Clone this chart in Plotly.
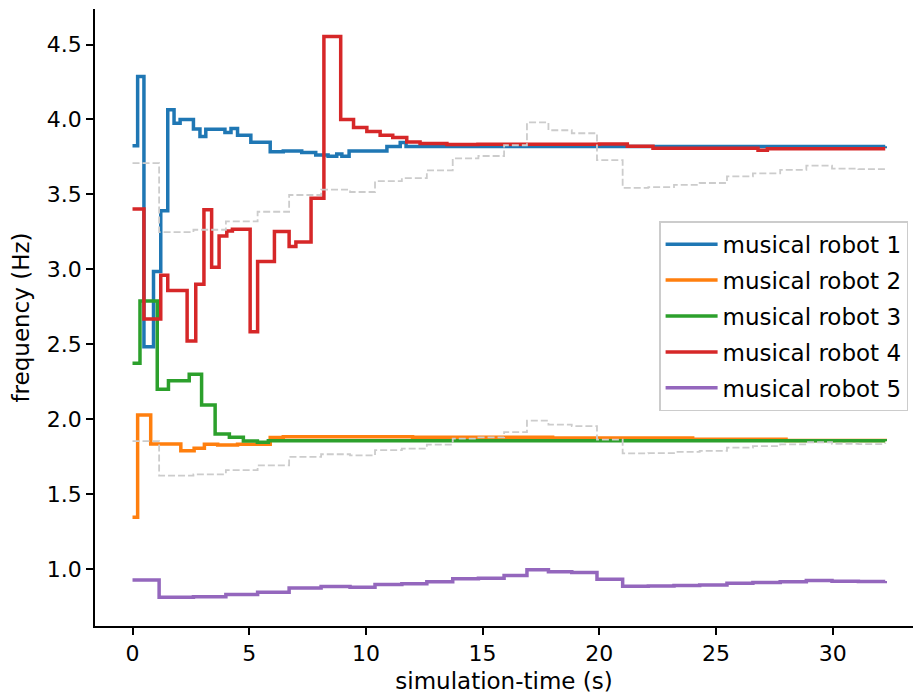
import plotly.graph_objects as go

# ---- data ----
t1 = [0, 0.22, 0.49, 0.9, 1.21, 1.51, 1.78, 2.04, 2.61, 2.89, 3.14, 3.96, 4.22, 4.5, 5.07,
      5.9, 6.46, 7.25, 7.85, 8.38, 8.75, 8.97, 9.28, 10.9, 11.47, 11.72, 32.25]
f1 = [3.824, 4.287, 2.484, 2.985, 3.39, 4.064, 3.975, 4.0, 3.937, 3.886, 3.935, 3.913, 3.94,
      3.895, 3.848, 3.784, 3.79, 3.78, 3.762, 3.755, 3.77, 3.755, 3.79, 3.82, 3.846, 3.82, 3.822]

t2 = [0, 0.22, 0.78, 2.07, 2.64, 3.08, 3.65, 4.5, 5.9, 6.46, 12, 18, 24, 28, 32.25]
f2 = [1.345, 2.028, 1.834, 1.79, 1.806, 1.832, 1.828, 1.832, 1.877, 1.882, 1.879, 1.874,
      1.866, 1.858, 1.855]

t3 = [0, 0.32, 1.06, 1.54, 2.43, 2.96, 3.54, 4.15, 4.75, 5.35, 5.82, 32.25]
f3 = [2.373, 2.789, 2.2, 2.257, 2.3, 2.095, 1.901, 1.879, 1.854, 1.846, 1.856, 1.853]

t4 = [0, 0.49, 1.21, 1.51, 2.34, 2.71, 3.06, 3.39, 3.71, 4.04, 4.28, 5.04, 5.36, 6.08, 6.71,
      7.0, 7.65, 8.2, 8.92, 9.47, 10.04, 10.61, 11.15, 11.75, 12.32, 13.47, 14.8, 20.0, 21.2,
      22.3, 26.8, 27.2, 32.25]
f4 = [3.403, 2.669, 2.96, 2.858, 2.522, 2.90, 3.397, 3.014, 3.223, 3.256, 3.268, 2.584, 3.052,
      3.252, 3.152, 3.183, 3.474, 4.554, 4.0, 3.947, 3.919, 3.895, 3.879, 3.85, 3.84, 3.833,
      3.835, 3.837, 3.822, 3.808, 3.795, 3.804, 3.804]

t5 = [0, 1.14, 2.61, 4.0, 5.36, 6.71, 8.08, 9.32, 10.39, 11.54, 12.61, 13.72, 14.82, 15.92,
      16.9, 17.82, 18.82, 19.9, 21.0, 22.1, 23.2, 24.3, 25.47, 26.58, 27.75, 28.87, 29.97,
      31.1, 32.25]
f5 = [0.927, 0.812, 0.816, 0.83, 0.846, 0.874, 0.883, 0.879, 0.897, 0.902, 0.915, 0.935,
      0.939, 0.957, 0.995, 0.982, 0.977, 0.932, 0.886, 0.887, 0.891, 0.894, 0.905, 0.91,
      0.916, 0.923, 0.918, 0.917, 0.92]

# grey dashed reference lines
g_low = [1.854, 1.624, 1.632, 1.66, 1.692, 1.748, 1.766, 1.758, 1.794, 1.804, 1.83, 1.87,
         1.878, 1.914, 1.99, 1.964, 1.954, 1.864, 1.772, 1.774, 1.782, 1.788, 1.81, 1.82,
         1.832, 1.846, 1.836, 1.834, 1.84]
g_high = [3.708, 3.248, 3.264, 3.32, 3.384, 3.496, 3.532, 3.516, 3.588, 3.608, 3.66, 3.74,
          3.756, 3.828, 3.98, 3.928, 3.908, 3.728, 3.544, 3.548, 3.564, 3.576, 3.62, 3.64,
          3.664, 3.692, 3.672, 3.668, 3.68]

names = ["musical robot 1", "musical robot 2", "musical robot 3", "musical robot 4",
         "musical robot 5"]
colors = ["#1f77b4", "#ff7f0e", "#2ca02c", "#d62728", "#9467bd"]
series = [(t1, f1), (t2, f2), (t3, f3), (t4, f4), (t5, f5)]

FONT = "DejaVu Sans"
fig = go.Figure()
for i, ((t, f), n, c) in enumerate(zip(series, names, colors)):
    fig.add_trace(go.Scatter(x=t, y=f, mode="lines", name=n, legendgroup=f"g{i}",
                             line=dict(color=c, width=3.5, shape="hv")))
for g in (g_high, g_low):
    fig.add_trace(go.Scatter(x=t5, y=g, mode="lines", showlegend=False,
                             line=dict(color="#cccccc", width=1.8, shape="hv",
                                       dash="7px,3px")))

fig.update_layout(
    width=913, height=697,
    margin=dict(l=95, r=0, t=9, b=71),
    paper_bgcolor="white", plot_bgcolor="white",
    font=dict(family=FONT, size=23, color="black"),
    legend=dict(x=0.994, y=0.502, xanchor="right", yanchor="middle",
                bgcolor="rgba(255,255,255,0.8)", bordercolor="#cccccc", borderwidth=1.5,
                font=dict(size=23), itemwidth=52, tracegroupgap=3),
)
fig.update_xaxes(range=[-1.607, 33.44], tickvals=[0, 5, 10, 15, 20, 25, 30],
                 showgrid=False, zeroline=False, showline=True, linecolor="black",
                 linewidth=1.6, ticks="outside", ticklen=7, tickwidth=1.6,
                 tickcolor="black", tickfont=dict(size=22),
                 title=dict(text="simulation-time (s)", font=dict(size=23), standoff=8))
fig.update_yaxes(range=[0.62, 4.737], tickvals=[1.0, 1.5, 2.0, 2.5, 3.0, 3.5, 4.0, 4.5],
                 ticktext=["1.0", "1.5", "2.0", "2.5", "3.0", "3.5", "4.0", "4.5"],
                 showgrid=False, zeroline=False, showline=True, linecolor="black",
                 linewidth=1.6, ticks="outside", ticklen=7, tickwidth=1.6,
                 tickcolor="black", tickfont=dict(size=22),
                 title=dict(text="frequency (Hz)", font=dict(size=23), standoff=11))

fig.write_html("out.html")
